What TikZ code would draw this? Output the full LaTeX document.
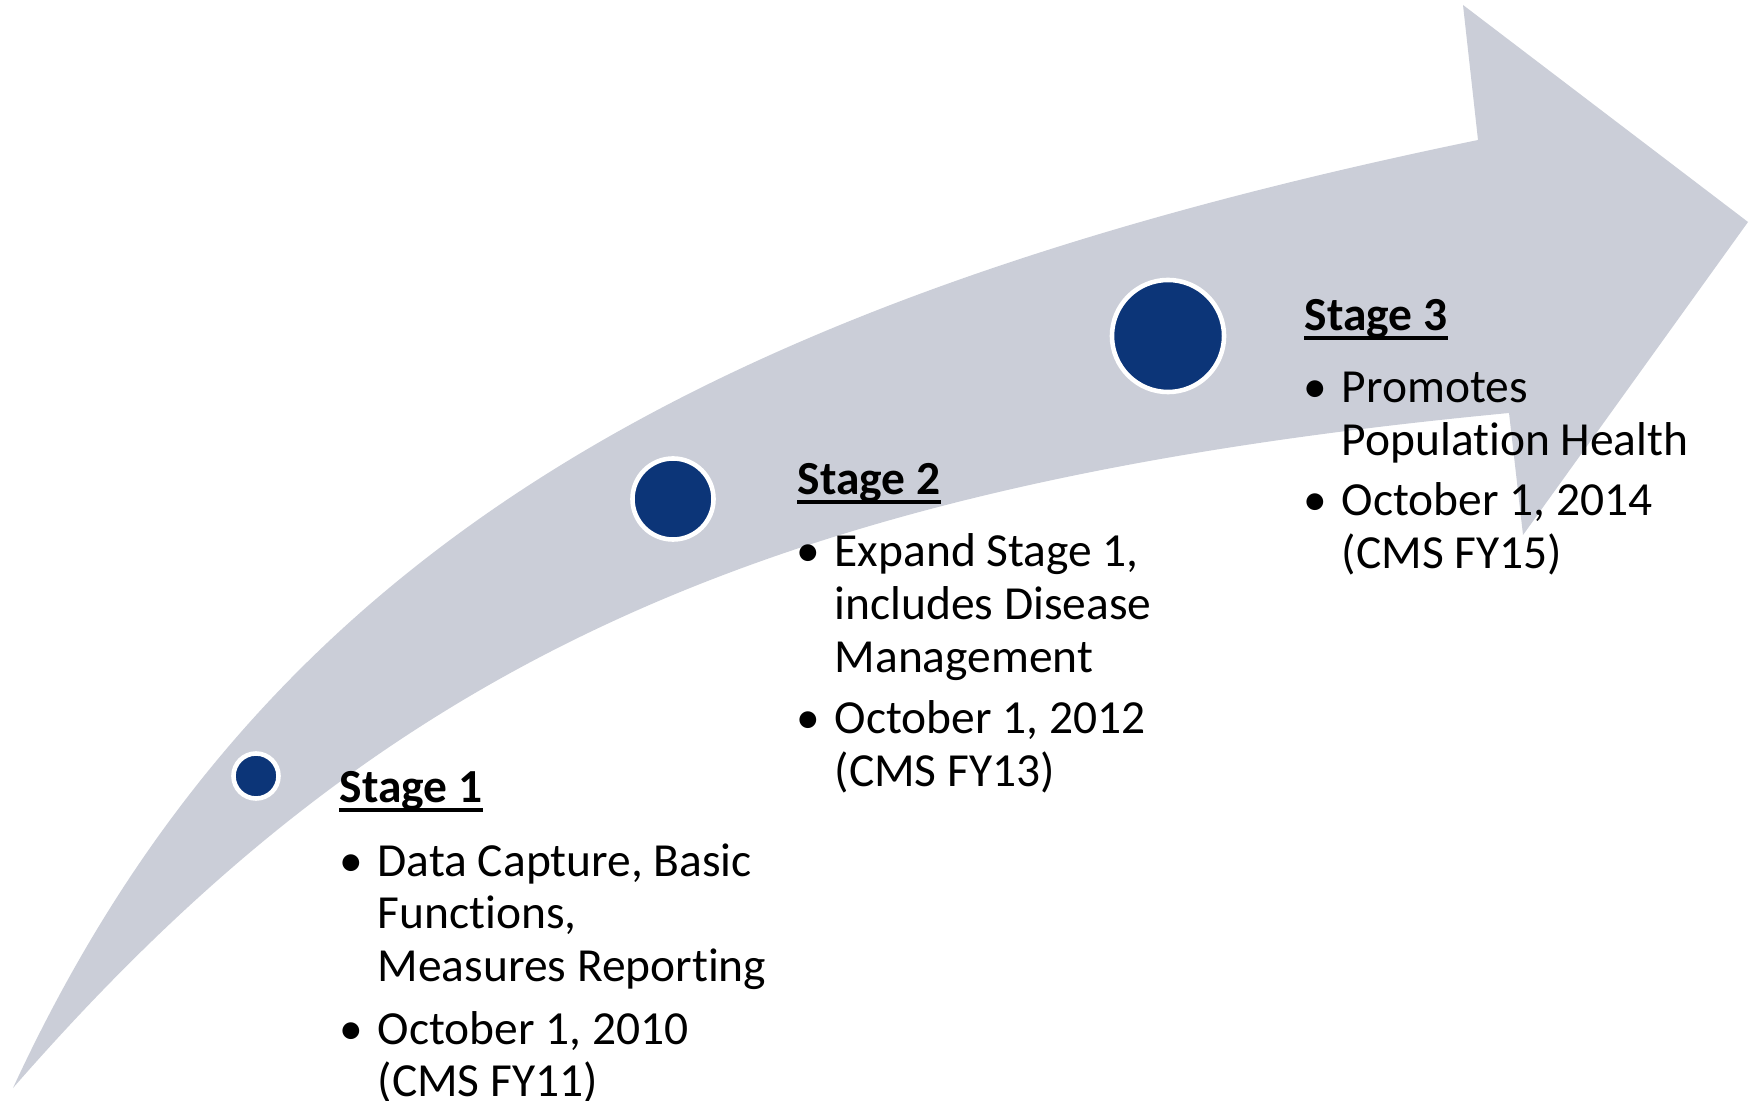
\documentclass[tikz,border=0pt]{standalone}
\usepackage{fontspec}
\setmainfont{Carlito}[Ligatures=NoCommon]
\definecolor{band}{RGB}{203,206,216}
\definecolor{dotblue}{RGB}{12,53,120}
\newcommand{\stagefont}{\fontsize{13.5}{14.94}\selectfont}
\newcommand{\lines}[1]{\begin{tabular}[t]{@{}l@{}}#1\end{tabular}}
\tikzset{
  stagedot/.style={circle, fill=dotblue, draw=white, line width=1.3pt, inner sep=0pt},
  hdr/.style={anchor=base west, inner sep=0pt, font=\stagefont\bfseries},
  itemtext/.style={anchor=base west, inner sep=0pt, font=\stagefont},
  bul/.style={anchor=base, inner sep=0pt, font=\stagefont},
  uline/.style={line width=1pt},
}
\begin{document}
\begin{tikzpicture}[x=0.01cm, y=-0.01cm]
\useasboundingbox (0,0) rectangle (1749,1101);
% curved arrow
\fill[band] (13,1088) .. controls (253,569) and (677,305) .. (1478,140)
  -- (1463,5) -- (1748,222) -- (1523,535) -- (1509,413)
  .. controls (752,485) and (378,670) .. (13,1088) -- cycle;
% stage dots
\node[stagedot, minimum size=0.45cm] (c1) at (256,776) {};
\node[stagedot, minimum size=0.81cm] (c2) at (673,499) {};
\node[stagedot, minimum size=1.12cm] (c3) at (1168,336) {};
% Stage 1
\node[hdr] (h1) at (339,803) {Stage 1};
\draw[uline] ([yshift=-2pt]h1.base west) -- ([yshift=-2pt]h1.base east);
\node[bul] (b1a) at (351,876) {•};
\node[itemtext] (t1a) at (377,876) {\lines{Data Capture, Basic\\Functions,\\Measures Reporting}};
\node[bul] (b1b) at (351,1044) {•};
\node[itemtext] (t1b) at (377,1044) {\lines{October 1, 2010\\(CMS FY11)}};
% Stage 2
\node[hdr] (h2) at (797,495) {Stage 2};
\draw[uline] ([yshift=-2pt]h2.base west) -- ([yshift=-2pt]h2.base east);
\node[bul] (b2a) at (808,567) {•};
\node[itemtext] (t2a) at (834,567) {\lines{Expand Stage 1,\\includes Disease\\Management}};
\node[bul] (b2b) at (808,734) {•};
\node[itemtext] (t2b) at (834,734) {\lines{October 1, 2012\\(CMS FY13)}};
% Stage 3
\node[hdr] (h3) at (1304,331) {Stage 3};
\draw[uline] ([yshift=-2pt]h3.base west) -- ([yshift=-2pt]h3.base east);
\node[bul] (b3a) at (1315,403) {•};
\node[itemtext] (t3a) at (1341,403) {\lines{Promotes\\Population Health}};
\node[bul] (b3b) at (1315,516) {•};
\node[itemtext] (t3b) at (1341,516) {\lines{October 1, 2014\\(CMS FY15)}};
\end{tikzpicture}
\end{document}
